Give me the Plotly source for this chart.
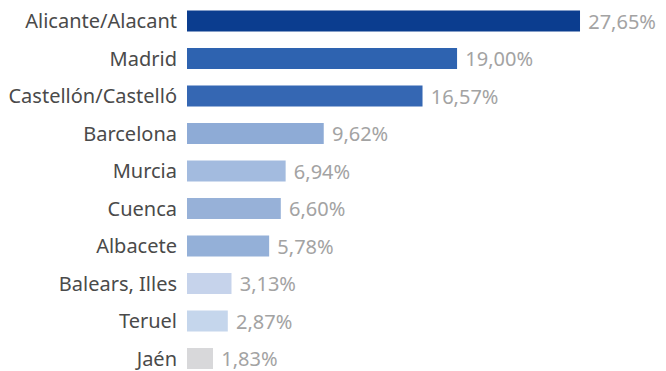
import plotly.graph_objects as go

provincias = [
    "Alicante/Alacant", "Madrid", "Castellón/Castelló", "Barcelona", "Murcia",
    "Cuenca", "Albacete", "Balears, Illes", "Teruel", "Jaén",
]
porcentajes = [27.65, 19.00, 16.57, 9.62, 6.94, 6.60, 5.78, 3.13, 2.87, 1.83]
colores = [
    "#0b3d8f", "#2e63b0", "#3567b3", "#8eabd6", "#a3bbdf",
    "#97b1d8", "#94b0d8", "#c6d3eb", "#c5d6ec", "#d8d8da",
]

# etiquetas con coma decimal, como en el original
etiquetas = [" " + f"{v:.2f}".replace(".", ",") + "%" for v in porcentajes]

fig = go.Figure(
    go.Bar(
        x=porcentajes,
        y=list(range(len(provincias))),
        orientation="h",
        width=0.56,
        marker=dict(color=colores, line=dict(width=0)),
        text=etiquetas,
        textposition="outside",
        constraintext="none",
        textfont=dict(family="Noto Sans", size=20, color="#a3a3a3"),
        cliponaxis=False,
    )
)

fig.update_yaxes(
    tickmode="array",
    tickvals=list(range(len(provincias))),
    ticktext=provincias,
    range=[9.333, -0.56],
    showgrid=False,
    zeroline=False,
    showline=False,
    ticks="",
    ticklabelstandoff=9,
    ticklabeloverflow="allow",
    tickfont=dict(family="Noto Sans", size=20, color="#4a4a4a"),
)
fig.update_xaxes(visible=False, range=[0, 33.7])

fig.update_layout(
    width=666, height=371,
    margin=dict(l=187, r=0, t=0, b=0, autoexpand=False),
    paper_bgcolor="white",
    plot_bgcolor="white",
    showlegend=False,
)

# quitar el margen por defecto del <body> para que el gráfico quede en (0,0)
fig.write_html(
    "out.html",
    config={"displayModeBar": False},
    post_script="document.body.style.margin='0';",
)
